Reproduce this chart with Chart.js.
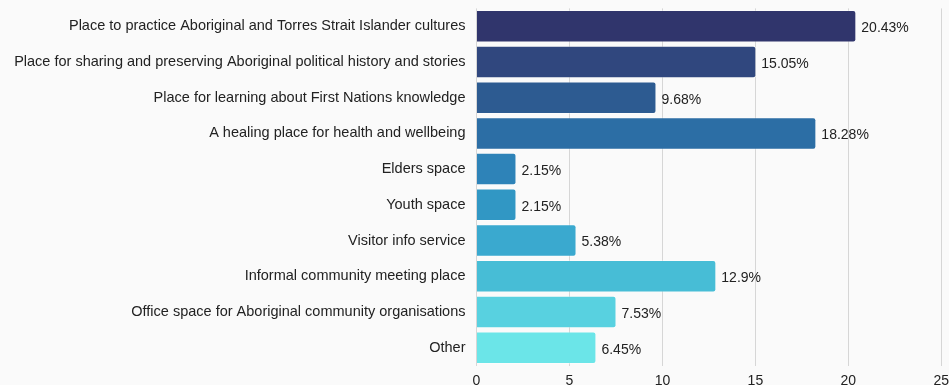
<!DOCTYPE html>
<html>
<head>
<meta charset="utf-8">
<script src="https://cdn.jsdelivr.net/npm/chart.js@4"></script>
<style>
  html, body { margin: 0; padding: 0; background: #fafafa; overflow: hidden; }
  #wrap { width: 949px; height: 385px; position: relative; }
</style>
</head>
<body>
<div id="wrap"><canvas id="graph"></canvas></div>
<script>
const categories = [
    'Place to practice Aboriginal and Torres Strait Islander cultures',
    'Place for sharing and preserving Aboriginal political history and stories',
    'Place for learning about First Nations knowledge',
    'A healing place for health and wellbeing',
    'Elders space',
    'Youth space',
    'Visitor info service',
    'Informal community meeting place',
    'Office space for Aboriginal community organisations',
    'Other'
];
const percents = [20.43, 15.05, 9.68, 18.28, 2.15, 2.15, 5.38, 12.9, 7.53, 6.45];
const xTicks = [0, 5, 10, 15, 20, 25];

// dark navy -> cyan, one per bar
const palette = [
    '#30356c', '#30477e', '#2d5b91', '#2c6ea5', '#2e83b8',
    '#3197c4', '#3aa9cf', '#47bdd6', '#58d1e0', '#6be5e8'
];

const canvas = document.querySelector('#graph');
const ctx = canvas.getContext('2d');
const fontFamily = '"Liberation Sans", Arial, Helvetica, sans-serif';

// prints "xx%" just past the end of each bar
const valueLabels = {
    id: 'valueLabels',
    afterDatasetsDraw(chart){
        const c = chart.ctx;
        const meta = chart.getDatasetMeta(0);
        c.save();
        c.font = `14px ${fontFamily}`;
        c.fillStyle = '#222';
        c.textAlign = 'left';
        c.textBaseline = 'middle';
        meta.data.forEach((bar, i) => {
            c.fillText(`${percents[i]}%`, bar.x + 5, bar.y + 2);
        });
        c.restore();
    }
};

new Chart(ctx, {
    type: 'bar',
    data: {
        labels: categories,
        datasets: [{
            data: percents,
            backgroundColor: palette,
            borderColor: 'rgba(255,255,255,0.35)',
            borderWidth: 1,
            borderRadius: 3,
            categoryPercentage: 1,
            barPercentage: 0.91
        }]
    },
    options: {
        indexAxis: 'y',
        responsive: true,
        maintainAspectRatio: false,
        animation: false,
        layout: { padding: { top: 8.4, left: 0, right: 7.7, bottom: 0 } },
        plugins: {
            legend: { display: false },
            tooltip: { enabled: false }
        },
        scales: {
            x: {
                min: 0,
                max: 25,
                afterBuildTicks: (scale) => { scale.ticks = xTicks.map(v => ({ value: v })); },
                afterFit: (scale) => {
                    scale.height = 19.5;
                    scale.paddingLeft = 0;
                    scale.paddingRight = 0;
                },
                border: { display: false },
                grid: { color: '#d6d6d6', drawTicks: false },
                ticks: {
                    padding: 7,
                    color: '#222',
                    font: { family: fontFamily, size: 14 }
                }
            },
            y: {
                afterFit: (scale) => {
                    scale.width = 476.5;
                    scale.paddingTop = 0;
                    scale.paddingBottom = 0;
                },
                border: { display: false },
                grid: { display: false, drawTicks: false },
                ticks: {
                    padding: 11,
                    color: '#222',
                    font: { family: fontFamily, size: 14.5 }
                }
            }
        }
    },
    plugins: [valueLabels]
});
</script>
</body>
</html>
